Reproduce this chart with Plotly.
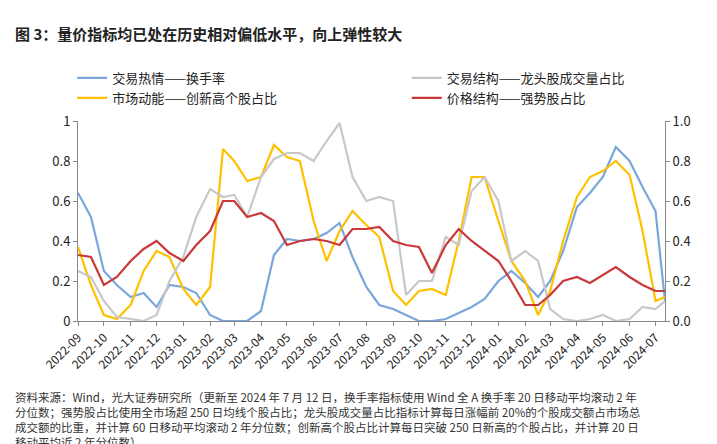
import pandas as pd
import plotly.graph_objects as go

# half-month sampling points, 2022-09-01 .. 2024-07-01, plus the last date
dates = []
for p in pd.period_range("2022-09", "2024-07", freq="M"):
    dates.append(p.start_time)
    if p != pd.Period("2024-07"):
        dates.append(p.start_time + pd.Timedelta(days=15))
dates.append(pd.Timestamp("2024-07-12"))

turnover = [.64, .52, .25, .18, .12, .14, .07, .18, .17, .14,
            .03, 0, 0, 0, .05, .33, .41, .40, .41, .44,
            .49, .32, .17, .08, .06, .03, 0, 0, .01, .04,
            .07, .11, .20, .25, .19, .12, .20, .35, .57, .64,
            .72, .87, .80, .67, .55, .10]
leader_share = [.25, .22, .10, .02, .01, 0, .03, .20, .32, .52,
                .66, .62, .63, .52, .72, .81, .84, .84, .80, .90,
                .99, .72, .60, .62, .60, .13, .20, .20, .42, .38,
                .65, .72, .60, .30, .35, .30, .06, .01, 0, .01,
                .03, 0, .01, .07, .06, .10]
new_high = [.37, .18, .03, .01, .08, .25, .35, .32, .16, .08,
            .17, .86, .80, .70, .72, .88, .82, .80, .50, .30,
            .45, .55, .48, .42, .15, .08, .15, .16, .13, .40,
            .72, .72, .50, .30, .20, .03, .15, .40, .62, .72,
            .75, .80, .73, .45, .10, .12]
strong_share = [.33, .32, .18, .22, .30, .36, .40, .34, .30, .38,
                .45, .60, .60, .52, .54, .50, .38, .40, .41, .40,
                .38, .46, .46, .47, .40, .38, .37, .24, .38, .46,
                .40, .35, .30, .20, .08, .08, .13, .20, .22, .19,
                .23, .27, .22, .18, .15, .15]

series = [
    ("交易热情——换手率", turnover, "#7aa6dc", "y", "legend"),
    ("交易结构——龙头股成交量占比", leader_share, "#c8c8c8", "y2", "legend2"),
    ("市场动能——创新高个股占比", new_high, "#ffc000", "y", "legend"),
    ("价格结构——强势股占比", strong_share, "#c9383a", "y2", "legend2"),
]

fig = go.Figure()
for name, vals, color, ax, lg in series:
    fig.add_trace(go.Scatter(x=dates, y=vals, name=name, yaxis=ax, mode="lines",
                             legend=lg, line=dict(color=color, width=2.2)))

font = "Noto Sans CJK SC"
lg_style = dict(orientation="v", yanchor="top", xanchor="left", y=1.29,
                font=dict(size=13), tracegroupgap=0, bgcolor="rgba(0,0,0,0)")
fig.update_layout(
    width=717, height=444,
    margin=dict(l=70, r=60, t=113, b=131),
    paper_bgcolor="white", plot_bgcolor="white",
    font=dict(family=font, size=13, color="#222"),
    showlegend=True,
    legend=dict(x=-0.01, **lg_style),
    legend2=dict(x=0.56, **lg_style),
    xaxis=dict(range=["2022-09-01", "2024-07-12"], dtick="M1", tickformat="%Y-%m",
               tickangle=-45, showline=True, linecolor="#888", ticks="outside",
               tickcolor="#888", ticklen=4, showgrid=False, tickfont=dict(size=12)),
    yaxis=dict(range=[0, 1], dtick=0.2, showline=True, linecolor="#888",
               ticks="outside", tickcolor="#888", ticklen=4, showgrid=False,
               zeroline=False, tickformat="~g"),
    yaxis2=dict(range=[0, 1], dtick=0.2, overlaying="y", side="right", showline=True,
                linecolor="#888", ticks="outside", tickcolor="#888", ticklen=4,
                showgrid=False, zeroline=False, tickformat=".1f"),
    annotations=[
        dict(xref="paper", yref="paper", x=-0.11, y=1.5, xanchor="left", yanchor="top",
             showarrow=False, align="left",
             text="<b>图 3：量价指标均已处在历史相对偏低水平，向上弹性较大</b>",
             font=dict(size=15, color="#222")),
        dict(xref="paper", yref="paper", x=-0.11, y=-0.33, xanchor="left", yanchor="top",
             showarrow=False, align="left", font=dict(size=11.5, color="#333"),
             text="资料来源：Wind，光大证券研究所（更新至 2024 年 7 月 12 日，换手率指标使用 Wind 全 A 换手率 20 日移动平均滚动 2 年<br>"
                  "分位数；强势股占比使用全市场超 250 日均线个股占比；龙头股成交量占比指标计算每日涨幅前 20%的个股成交额占市场总<br>"
                  "成交额的比重，并计算 60 日移动平均滚动 2 年分位数；创新高个股占比计算每日突破 250 日新高的个股占比，并计算 20 日<br>"
                  "移动平均近 2 年分位数）"),
    ],
)
fig.write_html("out.html")
